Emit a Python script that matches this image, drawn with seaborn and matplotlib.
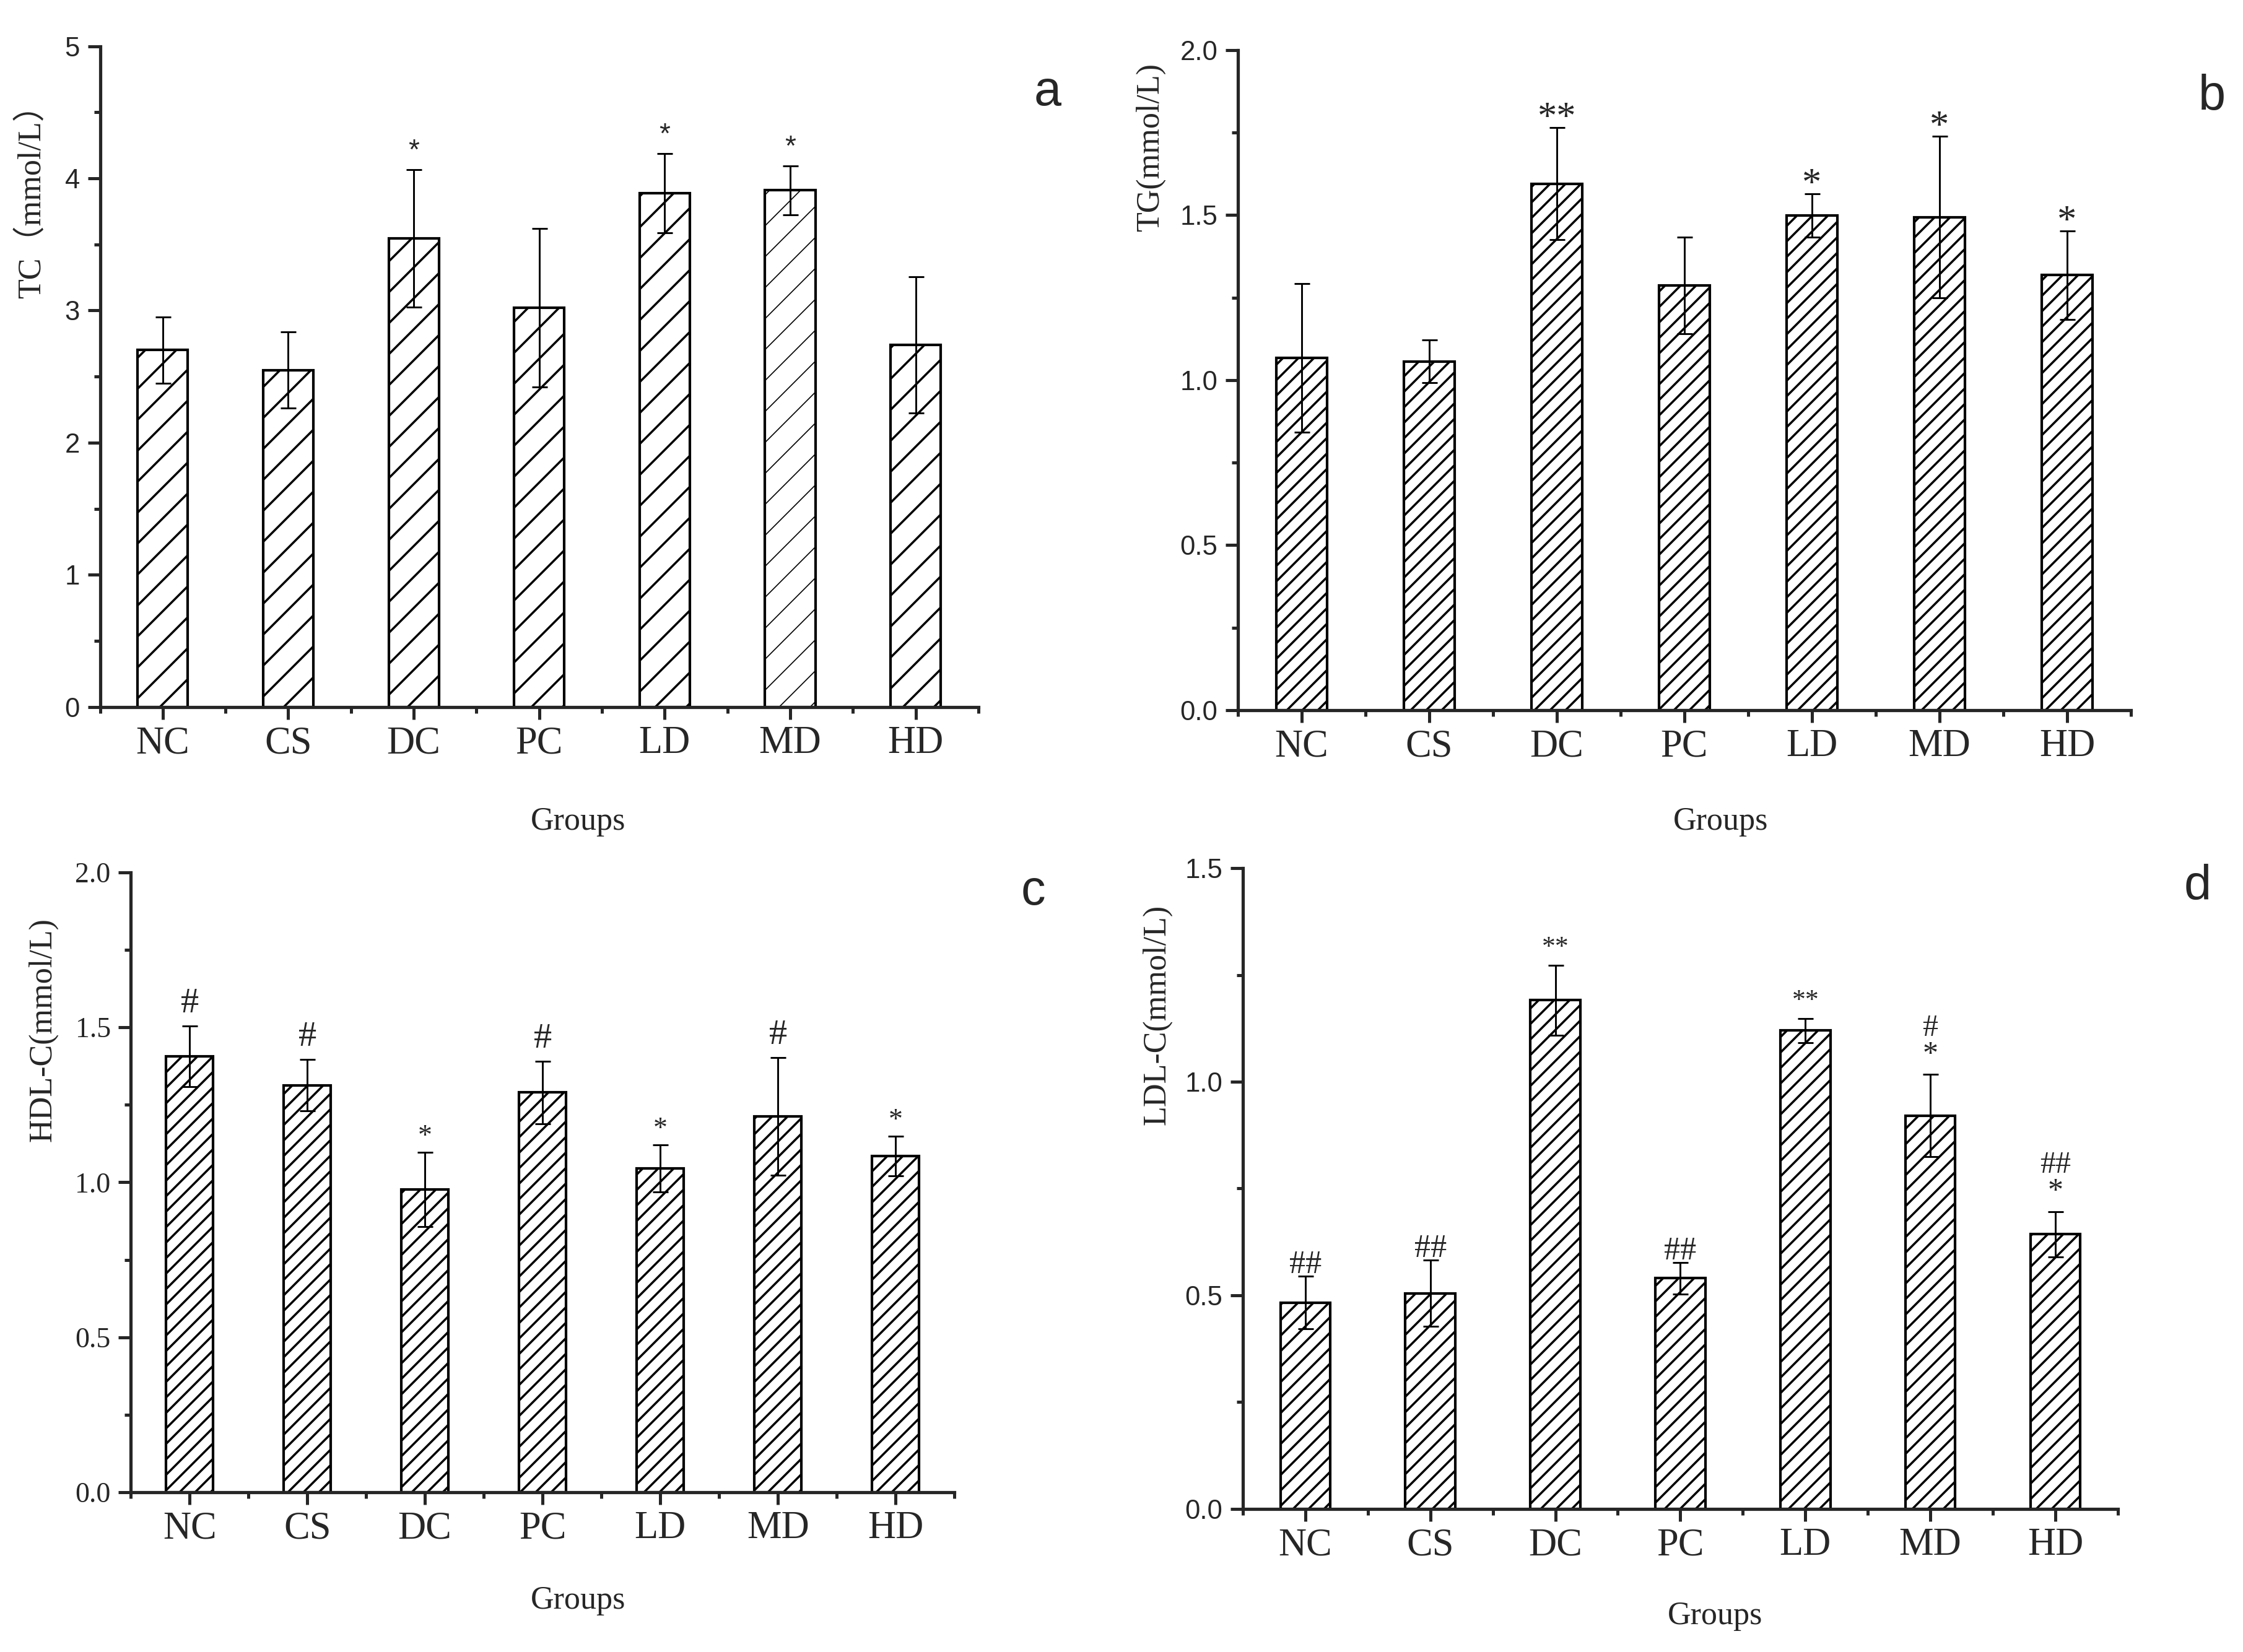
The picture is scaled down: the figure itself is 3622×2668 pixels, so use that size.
import numpy as np
import matplotlib
matplotlib.use('Agg')
import matplotlib.pyplot as plt
import seaborn as sns
from matplotlib.ticker import MultipleLocator, FormatStrFormatter

# groups on the x axis (same for every panel)
groups = ['NC', 'CS', 'DC', 'PC', 'LD', 'MD', 'HD']

# a: TC
tc_mean = [2.70, 2.55, 3.545, 3.02, 3.89, 3.91, 2.74]
tc_err = [0.25, 0.29, 0.52, 0.60, 0.30, 0.185, 0.515]
tc_marks = ['', '', '*', '', '*', '*', '']

# b: TG
tg_mean = [1.068, 1.057, 1.595, 1.287, 1.499, 1.494, 1.318]
tg_err = [0.225, 0.064, 0.17, 0.147, 0.065, 0.245, 0.134]
tg_marks = ['', '', '**', '', '*', '*', '*']

# c: HDL-C
hdl_mean = [1.407, 1.313, 0.977, 1.290, 1.045, 1.212, 1.084]
hdl_err = [0.098, 0.083, 0.119, 0.101, 0.075, 0.19, 0.064]
hdl_marks = ['#', '#', '*', '#', '*', '#', '*']

# d: LDL-C
ldl_mean = [0.483, 0.505, 1.191, 0.540, 1.120, 0.921, 0.643]
ldl_err = [0.062, 0.077, 0.082, 0.037, 0.028, 0.096, 0.053]
ldl_marks = ['##', '##', '**', '##', '**', '#\n*', '##\n*']

sns.set_style('ticks')
plt.rcParams['font.family'] = ['Liberation Serif', 'Noto Sans CJK SC', 'DejaVu Sans']
plt.rcParams['hatch.linewidth'] = 0.85

SERIF = ['Liberation Serif', 'Noto Sans CJK SC', 'DejaVu Sans']
SANS = ['Liberation Sans', 'DejaVu Sans']

fig = plt.figure(figsize=(3622 / 300, 2668 / 300), dpi=300)


def draw_panel(rect, mean, err, marks, ylabel, letter, ymax, major, fmt,
               tick_family, tick_size, hatch, ylab_pos, groups_pos, letter_pos,
               mark_style):
    ax = fig.add_axes(rect)
    sns.barplot(x=groups, y=mean, ax=ax, color='white', edgecolor='black',
                linewidth=1.0, hatch=hatch, width=0.4, errorbar=None,
                saturation=1)
    ax.errorbar(np.arange(len(groups)), mean, yerr=err, fmt='none',
                ecolor='black', elinewidth=0.7, capsize=3.0, capthick=0.7)

    for i, m in enumerate(marks):
        if not m:
            continue
        key = '#' if m.startswith('#') else '*'
        st = mark_style[key]
        if '\n' in m:
            st = mark_style['stack']
        ax.annotate(m, xy=(i, mean[i] + err[i]), xytext=(0, st['off']),
                    textcoords='offset points', ha='center', va='center',
                    fontsize=st['size'], family=st['family'],
                    linespacing=st.get('ls', 1.0), multialignment='center')

    ax.set_xlim(-0.5, len(groups) - 0.5)
    ax.set_ylim(0, ymax)
    ax.set_xticks(np.arange(-0.5, len(groups), 1.0), minor=True)
    ax.yaxis.set_major_locator(MultipleLocator(major))
    ax.yaxis.set_minor_locator(MultipleLocator(major / 2))
    ax.yaxis.set_major_formatter(FormatStrFormatter(fmt))
    ax.set_xlabel('')
    ax.set_ylabel('')

    for side in ['top', 'right']:
        ax.spines[side].set_visible(False)
    for side in ['left', 'bottom']:
        ax.spines[side].set_linewidth(1.25)
    ax.tick_params(which='major', direction='out', length=4.8, width=1.2)
    ax.tick_params(which='minor', direction='out', length=2.4, width=1.2)
    ax.tick_params(axis='x', which='major', pad=2.5)
    ax.tick_params(axis='y', which='major', pad=3)

    for lab in ax.get_xticklabels():
        lab.set_family(SERIF)
        lab.set_fontsize(15)
    for lab in ax.get_yticklabels():
        lab.set_family(tick_family)
        lab.set_fontsize(tick_size)

    ax.text(ylab_pos[0], ylab_pos[1], ylabel, transform=ax.transAxes,
            rotation=90, ha='center', va='center', fontsize=12.5, family=SERIF)
    ax.text(groups_pos[0], groups_pos[1], 'Groups', transform=ax.transAxes,
            ha='center', va='center', fontsize=12.5, family=SERIF)
    ax.text(letter_pos[0], letter_pos[1], letter, transform=ax.transAxes,
            ha='center', va='center', fontsize=19, family=SANS)
    return ax


ax_a = draw_panel([0.0446, 0.5721, 0.3916, 0.3999], tc_mean, tc_err, tc_marks,
                  'TC（mmol/L）', 'a', 5, 1, '%d', SANS, 10.5, '//',
                  (-0.078, 0.777), (0.544, -0.174), (1.079, 0.93),
                  {'*': {'size': 11, 'family': SANS, 'off': 7}})
# the MD bar in panel a has a finer hatch
try:
    ax_a.patches[5].set_hatch_linewidth(0.4)
except AttributeError:
    pass

draw_panel([0.5519, 0.5701, 0.3981, 0.3996], tg_mean, tg_err, tg_marks,
           'TG(mmol/L)', 'b', 2.0, 0.5, '%.1f', SANS, 10.5, '////',
           (-0.098, 0.853), (0.541, -0.169), (1.091, 0.929),
           {'*': {'size': 15, 'family': SERIF, 'off': 3.2}})

draw_panel([0.0583, 0.0967, 0.3672, 0.3752], hdl_mean, hdl_err, hdl_marks,
           'HDL-C(mmol/L)', 'c', 2.0, 0.5, '%.1f', SERIF, 11, '////',
           (-0.107, 0.746), (0.543, -0.175), (1.096, 0.969),
           {'#': {'size': 14, 'family': SERIF, 'off': 8.6},
            '*': {'size': 11, 'family': SERIF, 'off': 6}})

draw_panel([0.5541, 0.0866, 0.3901, 0.3879], ldl_mean, ldl_err, ldl_marks,
           'LDL-C(mmol/L)', 'd', 1.5, 0.5, '%.1f', SANS, 10.5, '////',
           (-0.098, 0.771), (0.540, -0.167), (1.091, 0.971),
           {'#': {'size': 12.5, 'family': SERIF, 'off': 4.3},
            '*': {'size': 10.5, 'family': SERIF, 'off': 6.7},
            'stack': {'size': 12, 'family': SERIF, 'off': 12.8, 'ls': 0.9}})

fig.savefig('out.png', dpi=300)
